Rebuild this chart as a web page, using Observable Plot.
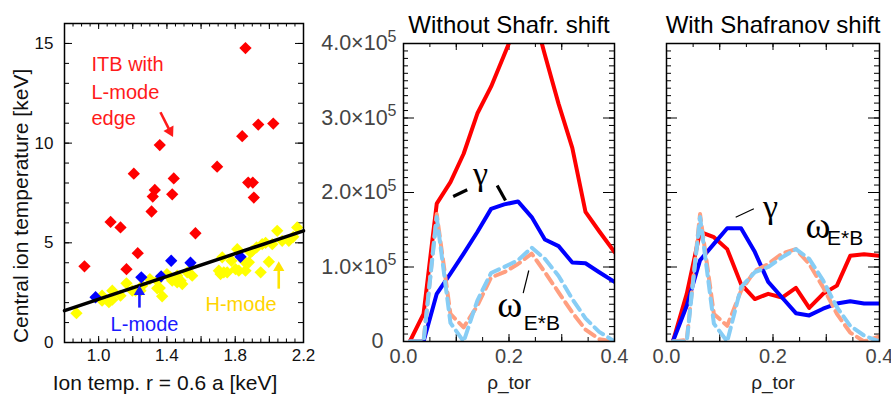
<!DOCTYPE html>
<html><head><meta charset="utf-8">
<script src="https://cdn.jsdelivr.net/npm/d3@7"></script>
<script src="https://cdn.jsdelivr.net/npm/@observablehq/plot@0.6"></script>
<style>
body{margin:0;background:#fff;}
#wrap{position:relative;width:891px;height:401px;overflow:hidden;background:#fff;}
#wrap > div{position:absolute;top:0;}
svg{overflow:visible;}
</style></head><body>
<div id="wrap"><div id="p1" style="left:0px"></div><div id="p2" style="left:320px"></div><div id="p3" style="left:630px"></div></div>
<script>
// ---------- Panel 1 data: central ion temperature vs ion temp at r = 0.6a [keV] ----------
const itbPoints = [[0.917,3.82],[1.07,6.05],[1.128,5.77],[1.163,3.68],[1.206,8.47],[1.229,4.48],[1.31,6.57],[1.317,7.32],[1.329,7.65],[1.358,9.9],[1.431,7.43],[1.44,8.23],[1.567,5.48],[1.694,8.82],[1.841,10.35],[1.86,14.77],[1.876,8.02],[1.903,8.02],[1.909,7.27],[1.935,10.93],[2.023,10.98]];
const lmodePoints = [[0.982,2.27],[1.25,3.27],[1.366,3.32],[1.425,4.1],[1.538,4.0],[1.831,4.3]];
const hmodePoints = [[0.87,1.47],[1.02,2.1],[1.02,2.35],[1.06,2.02],[1.08,2.15],[1.08,2.6],[1.128,2.35],[1.163,2.97],[1.197,2.6],[1.216,2.6],[1.245,2.6],[1.255,2.85],[1.3,3.18],[1.343,3.1],[1.343,2.72],[1.358,2.73],[1.372,2.32],[1.4,3.43],[1.421,3.27],[1.431,3.1],[1.46,3.35],[1.46,3.02],[1.48,3.1],[1.49,2.93],[1.519,3.52],[1.548,3.35],[1.704,3.6],[1.714,3.43],[1.724,4.27],[1.733,3.52],[1.753,3.52],[1.778,4.1],[1.802,3.68],[1.812,4.68],[1.821,3.6],[1.85,4.1],[1.86,3.6],[1.88,4.02],[1.89,4.52],[1.9,4.6],[1.925,4.77],[1.949,3.52],[1.958,4.93],[1.978,5.0],[1.997,4.05],[2.017,4.93],[2.046,5.6],[2.075,5.1],[2.114,5.1],[2.14,5.3],[2.163,5.77]];
const fitLine = [[0.8,1.6],[2.2,5.6]];
const xTickLabels1 = [1.0,1.4,1.8,2.2];
const yTickLabels1 = [0,5,10,15];
const notes1 = [
  {x:0.958,y:13.6,text:"ITB with",color:"#ff1a1a"},
  {x:0.958,y:12.22,text:"L-mode",color:"#ff1a1a"},
  {x:0.958,y:10.9,text:"edge",color:"#ff1a1a"},
  {x:1.07,y:0.6,text:"L-mode",color:"#1a1aff"},
  {x:1.626,y:1.6,text:"H-mode",color:"#ffd400"}
];
const arrows1 = [
  {x1:1.362,y1:11.55,x2:1.418,y2:10.6,rot:152,color:"#ff1a1a"},
  {x1:1.239,y1:1.75,x2:1.239,y2:2.55,rot:0,color:"#1a1aff"},
  {x1:2.055,y1:2.7,x2:2.055,y2:3.75,rot:0,color:"#ffe400"}
];
const xLabel1 = "Ion temp. r = 0.6 a [keV]";
const yLabel1 = {x:0.8,y:6.85,text:"Central ion temperature [keV]"};

// ---------- Panels 2 & 3 data: growth rate gamma and omega_ExB vs rho_tor (values in units of 1e5) ----------
const rho = [0.012,0.038,0.063,0.089,0.114,0.14,0.166,0.191,0.217,0.243,0.268,0.294,0.32,0.345,0.371,0.4];
const gammaRedNoShift   = [0.0,0.37,1.85,2.14,2.52,3.06,3.42,3.85,4.3,4.5,3.85,3.19,2.6,1.74,1.48,1.2];
const gammaBlueNoShift  = [0.0,0.0,0.64,0.91,1.18,1.47,1.78,1.84,1.88,1.67,1.37,1.28,1.06,1.05,0.93,0.8];
const wexbRedNoShift    = [0.0,0.0,1.71,0.37,0.19,0.48,0.86,0.93,1.04,1.18,0.93,0.66,0.39,0.16,0.03,0.0];
const wexbBlueNoShift   = [0.0,0.0,1.67,0.25,0.0,0.55,0.92,1.0,1.09,1.26,1.11,0.88,0.57,0.31,0.13,0.0];
const gammaRedShift     = [0.0,0.64,1.47,1.40,1.24,0.77,0.57,0.64,0.59,0.72,0.45,0.64,0.75,1.15,1.17,1.15];
const gammaBlueShift    = [0.0,0.48,1.09,1.31,1.52,1.52,1.2,0.8,0.59,0.38,0.35,0.44,0.51,0.54,0.51,0.51];
const wexbRedShift      = [0.0,0.02,1.71,0.37,0.21,0.68,0.95,1.04,1.18,1.24,1.04,0.73,0.37,0.12,0.0,0.07];
const wexbBlueShift     = [0.0,0.0,1.67,0.24,0.0,0.73,0.93,1.0,1.13,1.24,1.11,0.82,0.46,0.21,0.08,0.0];
const xTickLabels2 = [0.0,0.2,0.4];
const yTickLabels2 = [0,1,2,3,4];
const titles = ["Without Shafr. shift","With Shafranov shift"];
const xLabel2 = "\u03c1_tor";
const gammaNote2 = {x:0.146,y:2.25};
const gammaLeaders2 = [[0.0942,1.946,0.1208,2.036],[0.1776,2.094,0.1934,1.893]];
const omegaNote2 = {x:0.1776,y:0.326,sx:0.228,sy:0.148};
const omegaLeader2 = [0.2375,0.953,0.2269,0.648];
const gammaNote3 = {x:0.1953,y:1.80};
const gammaLeader3 = [0.1299,1.668,0.164,1.781];
const omegaNote3 = {x:0.2609,y:1.392,sx:0.3015,sy:1.289};

const SANS = "'Liberation Sans', Arial, Helvetica, sans-serif";
const SERIF = "'Liberation Serif', 'DejaVu Serif', 'Times New Roman', serif";
const COL = {red:"#ff0000", blue:"#0000ff", salmon:"#ff9f80", lblue:"#87cdf5"};

function step(a,b,s){const out=[];for(let i=0;;i++){const v=+(a+i*s).toFixed(4);if(v>b+1e-9)break;out.push(v);}return out;}
function frameTicks(fw,fh,xs,xlen,ys,ylen){
  const m=[];
  for(const [vals,len] of [[xs[0],xlen[0]],[xs[1],xlen[1]]]){
    m.push(Plot.ruleX(vals,{x:d=>d,insetTop:fh-len,stroke:"#000",strokeWidth:1}));
    m.push(Plot.ruleX(vals,{x:d=>d,insetBottom:fh-len,stroke:"#000",strokeWidth:1}));
  }
  for(const [vals,len] of [[ys[0],ylen[0]],[ys[1],ylen[1]]]){
    m.push(Plot.ruleY(vals,{y:d=>d,insetRight:fw-len,stroke:"#000",strokeWidth:1}));
    m.push(Plot.ruleY(vals,{y:d=>d,insetLeft:fw-len,stroke:"#000",strokeWidth:1}));
  }
  return m;
}

// ---------- Panel 1 ----------
{
  const W=320,H=401,ml=64,mr=17,mt=23,mb=59, fw=W-ml-mr, fh=H-mt-mb;
  const diamond = (pts,fill)=>Plot.dot(pts,{x:d=>d[0],y:d=>d[1],symbol:"square",rotate:45,r:4.9,fill,stroke:null});
  const p = Plot.plot({
    width:W,height:H,marginLeft:ml,marginRight:mr,marginTop:mt,marginBottom:mb,
    style:{background:"transparent",fontFamily:SANS,fontSize:"17px",color:"#111",overflow:"visible"},
    x:{domain:[0.8,2.2],ticks:xTickLabels1,tickFormat:d3.format(".1f"),tickSize:0,tickPadding:6,label:null},
    y:{domain:[0,16],ticks:yTickLabels1,tickFormat:d=>String(d),tickSize:0,tickPadding:11,label:null},
    marks:[
      ...frameTicks(fw,fh,[step(0.8,2.2,0.05),step(0.8,2.2,0.2)],[3.5,6],[step(0,16,1),step(0,15,5)],[5,8]),
      diamond(hmodePoints,"#ffff00"),
      diamond(lmodePoints,"#0000ff"),
      diamond(itbPoints,"#ff0000"),
      Plot.line(fitLine,{x:d=>d[0],y:d=>d[1],stroke:"#000",strokeWidth:3.5}),
      Plot.link(arrows1,{x1:"x1",y1:"y1",x2:"x2",y2:"y2",stroke:d=>d.color,strokeWidth:2.6}),
      Plot.dot(arrows1,{x:"x2",y:"y2",symbol:"triangle",rotate:d=>d.rot,r:4.2,fill:d=>d.color,stroke:null}),
      Plot.text(notes1,{x:"x",y:"y",text:"text",fill:d=>d.color,textAnchor:"start",lineAnchor:"bottom",fontSize:20}),
      Plot.text([xLabel1],{text:d=>d,frameAnchor:"bottom",dx:-19,dy:47,lineAnchor:"bottom",fontSize:21,fill:"#111"}),
      Plot.text([yLabel1],{x:"x",y:"y",text:"text",rotate:-90,dx:-43,lineAnchor:"middle",textAnchor:"middle",fontSize:21,fill:"#111"}),
      Plot.frame({stroke:"#000",strokeWidth:1.5})
    ]
  });
  document.getElementById("p1").appendChild(p);
}

// ---------- Panels 2 and 3 ----------
function curves(r,b,sr,sb){
  const mk=(vals)=>rho.map((x,i)=>({x,y:vals[i]}));
  return [
    Plot.line(mk(r),{x:"x",y:"y",stroke:COL.red,strokeWidth:4,clip:true}),
    Plot.line(mk(b),{x:"x",y:"y",stroke:COL.blue,strokeWidth:4,clip:true}),
    Plot.line(mk(sr),{x:"x",y:"y",stroke:COL.salmon,strokeWidth:4,strokeDasharray:"11,6",clip:true}),
    Plot.line(mk(sb),{x:"x",y:"y",stroke:COL.lblue,strokeWidth:4,strokeDasharray:"11,6",clip:true})
  ];
}
function omegaMarks(n){
  return [
    Plot.text([n],{x:"x",y:"y",text:()=>"\u03c9",textAnchor:"start",lineAnchor:"bottom",fontFamily:SERIF,fontSize:38,fill:"#000"}),
    Plot.text([n],{x:"sx",y:"sy",text:()=>"E*B",textAnchor:"start",lineAnchor:"bottom",fontSize:21,fill:"#000"})
  ];
}
function panel(el,W,ml,mr,title,data,extra,showY){
  const H=401,mt=43,mb=60, fw=W-ml-mr, fh=H-mt-mb;
  const p = Plot.plot({
    width:W,height:H,marginLeft:ml,marginRight:mr,marginTop:mt,marginBottom:mb,
    style:{background:"transparent",fontFamily:SANS,fontSize:"20px",color:"#444",overflow:"visible"},
    x:{domain:[0,0.4],ticks:xTickLabels2,tickFormat:d3.format(".1f"),tickSize:0,tickPadding:7,label:null},
    y:showY?{domain:[0,4],ticks:yTickLabels2,tickFormat:d=>d===0?"0":d.toFixed(1)+"\u00d710\u2075",tickSize:0,tickPadding:7,label:null}
           :{domain:[0,4],axis:null},
    marks:[
      ...frameTicks(fw,fh,[step(0,0.4,0.05),step(0,0.4,0.1)],[4,7],[step(0,4,0.1),step(0,4,1)],[5,11]),
      ...curves(...data),
      ...extra,
      Plot.text([title],{text:d=>d,frameAnchor:"top",dy:-11,lineAnchor:"bottom",fontSize:24,fill:"#000"}),
      Plot.text([xLabel2],{text:d=>d,frameAnchor:"bottom",dy:47,lineAnchor:"bottom",fontSize:19,fill:"#222"}),
      Plot.frame({stroke:"#000",strokeWidth:1.5})
    ]
  });
  // real superscripts for the 10^5 tick labels
  p.querySelectorAll("text").forEach(t=>{
    const s=t.textContent;
    if(s.endsWith("\u00d710\u2075")){
      t.textContent=s.slice(0,-1);
      t.setAttribute("font-size","21.5px");
      const ts=document.createElementNS("http://www.w3.org/2000/svg","tspan");
      ts.setAttribute("dy","-0.55em"); ts.setAttribute("font-size","16px"); ts.textContent="5";
      t.appendChild(ts);
    } else if(s==="0" && showY){
      t.setAttribute("dy","0em");
      t.setAttribute("dx","-13");
      t.setAttribute("font-size","21.5px");
    }
  });
  document.getElementById(el).appendChild(p);
}
panel("p2",310,83,16,titles[0],[gammaRedNoShift,gammaBlueNoShift,wexbRedNoShift,wexbBlueNoShift],[
  Plot.link(gammaLeaders2,{x1:d=>d[0],y1:d=>d[1],x2:d=>d[2],y2:d=>d[3],stroke:"#000",strokeWidth:3.2}),
  Plot.text([gammaNote2],{x:"x",y:"y",text:()=>"\u03b3",fontFamily:SERIF,fontSize:34,fill:"#000"}),
  Plot.link([omegaLeader2],{x1:d=>d[0],y1:d=>d[1],x2:d=>d[2],y2:d=>d[3],stroke:"#000",strokeWidth:1.2}),
  ...omegaMarks(omegaNote2)
],true);
panel("p3",261,36,12,titles[1],[gammaRedShift,gammaBlueShift,wexbRedShift,wexbBlueShift],[
  Plot.link([gammaLeader3],{x1:d=>d[0],y1:d=>d[1],x2:d=>d[2],y2:d=>d[3],stroke:"#000",strokeWidth:1.2}),
  Plot.text([gammaNote3],{x:"x",y:"y",text:()=>"\u03b3",fontFamily:SERIF,fontSize:34,fill:"#000"}),
  ...omegaMarks(omegaNote3)
],false);
</script>
</body></html>
